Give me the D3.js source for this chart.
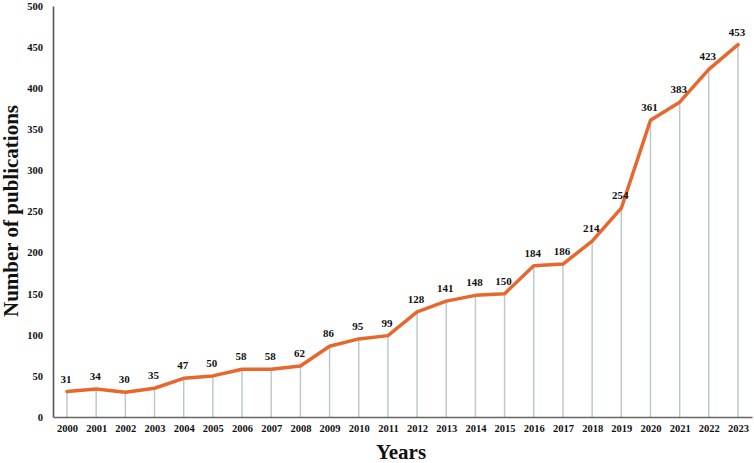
<!DOCTYPE html>
<html>
<head>
<meta charset="utf-8">
<script src="https://cdn.jsdelivr.net/npm/d3@7"></script>
<style>
html,body{margin:0;padding:0;background:#fff;}
svg{display:block;font-family:"Liberation Serif","Times New Roman",serif;font-weight:bold;}
</style>
</head>
<body>
<svg id="chart" width="754" height="463"></svg>
<script>
const years = ["2000","2001","2002","2003","2004","2005","2006","2007","2008","2009","2010","2011","2012","2013","2014","2015","2016","2017","2018","2019","2020","2021","2022","2023"];
const publications = [31,34,30,35,47,50,58,58,62,86,95,99,128,141,148,150,184,186,214,254,361,383,423,453];
const yTicks = [0,50,100,150,200,250,300,350,400,450,500];

const svg = d3.select("#chart");
const mLeft = 53, mRight = 752, mTop = 6, mBottom = 417;

const x = d3.scalePoint().domain(years).range([mLeft, mRight]).padding(0.48);
const y = d3.scaleLinear().domain([0, 500]).range([mBottom, mTop]);

const data = years.map((yr, i) => ({year: yr, value: publications[i]}));

// drop lines
svg.append("g").selectAll("line").data(data).join("line")
  .attr("x1", d => x(d.year)).attr("x2", d => x(d.year))
  .attr("y1", d => y(d.value)).attr("y2", mBottom)
  .attr("stroke", "#bccacf").attr("stroke-width", 1.5);

// axes
const yAxis = svg.append("g").attr("transform", `translate(${mLeft},0)`)
  .call(d3.axisLeft(y).tickValues(yTicks).tickSize(0).tickPadding(10));
yAxis.select(".domain").attr("stroke", "#555").attr("stroke-width", 1.6);
yAxis.selectAll("text").attr("font-size", 10.5).attr("font-family", "Liberation Serif").attr("font-weight", "bold").attr("fill", "#111");

const xAxis = svg.append("g").attr("transform", `translate(0,${mBottom})`)
  .call(d3.axisBottom(x).tickSize(0).tickPadding(8));
xAxis.select(".domain").attr("stroke", "#666").attr("stroke-width", 1.6);
xAxis.selectAll("text").attr("font-size", 10.5).attr("font-family", "Liberation Serif").attr("font-weight", "bold").attr("fill", "#111");

// line
const line = d3.line().x(d => x(d.year)).y(d => y(d.value));
svg.append("path").datum(data)
  .attr("d", line).attr("fill", "none")
  .attr("stroke", "#e8672c").attr("stroke-width", 3.5)
  .attr("stroke-linejoin", "round").attr("stroke-linecap", "round");

// value labels
svg.append("g").selectAll("text").data(data).join("text")
  .attr("x", d => x(d.year) - 1)
  .attr("y", d => y(d.value) - 9)
  .attr("text-anchor", "middle")
  .attr("font-size", 11)
  .attr("fill", "#111")
  .text(d => d.value);

// titles
svg.append("text").attr("x", 401).attr("y", 459)
  .attr("text-anchor", "middle").attr("font-size", 21).attr("fill", "#111")
  .text("Years");
svg.append("text").attr("transform", "translate(18,211) rotate(-90)")
  .attr("text-anchor", "middle").attr("font-size", 21).attr("fill", "#111")
  .text("Number of publications");
</script>
</body>
</html>
